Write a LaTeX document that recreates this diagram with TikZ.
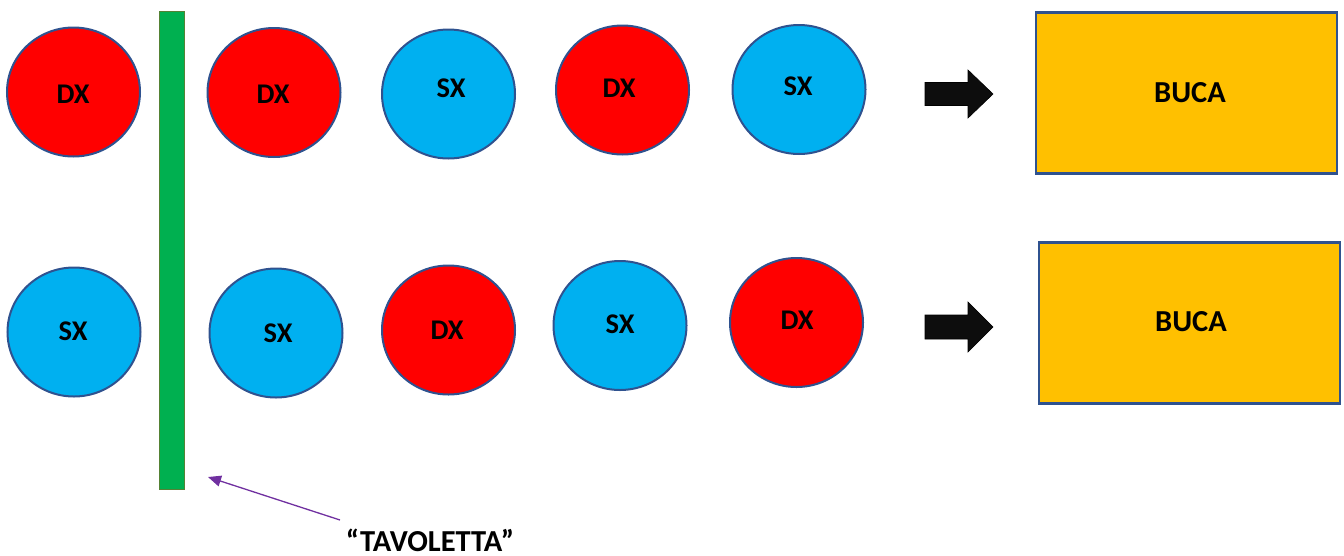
\documentclass[tikz,border=0pt]{standalone}
\usepackage{fontspec}
\setmainfont{Carlito}
\usetikzlibrary{arrows.meta,shapes.geometric}
\definecolor{cred}{HTML}{FF0000}
\definecolor{cblue}{HTML}{00B0F0}
\definecolor{corange}{HTML}{FFC000}
\definecolor{cedge}{HTML}{2F528F}
\definecolor{cgreen}{HTML}{00B050}
\definecolor{cgreenedge}{HTML}{548235}
\definecolor{cpurple}{HTML}{7030A0}
\begin{document}
\begin{tikzpicture}[x=1pt,y=-1pt,
  ball/.style={ellipse,draw=cedge,line width=2pt,inner sep=0pt,
    minimum width=133pt,minimum height=129pt},
  dx/.style={ball,fill=cred},
  sx/.style={ball,fill=cblue},
  hole/.style={rectangle,draw=cedge,line width=2.5pt,fill=corange,
    minimum width=301pt,minimum height=161pt,inner sep=0pt},
  lbl/.style={inner sep=0pt,font=\fontsize{28.5}{30}\selectfont\bfseries},
  biglbl/.style={inner sep=0pt,font=\fontsize{30.5}{32}\selectfont\bfseries},
  blockarrow/.style={fill=black!95,draw=black,line width=0.6pt,line join=miter}
]
\useasboundingbox (0,0) rectangle (1344,555);
% green board
\node[draw=cgreenedge,fill=cgreen,line width=1.5pt,minimum width=25pt,minimum height=478pt,inner sep=0pt] (board) at (172,250.5) {};
% row 1
\node[dx] (a1) at (73.5,92) {};
\node[lbl] at (73,94) {DX};
\node[dx] (a2) at (274,92.5) {};
\node[lbl] at (273,94) {DX};
\node[sx] (a3) at (448.5,94) {};
\node[lbl] at (451,88) {SX};
\node[dx] (a4) at (622.5,90) {};
\node[lbl] at (619,88) {DX};
\node[sx] (a5) at (799,89.5) {};
\node[lbl] at (798,86) {SX};
% row 2
\node[sx] (b1) at (74,332) {};
\node[lbl] at (73,331) {SX};
\node[sx] (b2) at (276,333) {};
\node[lbl] at (278,333) {SX};
\node[dx] (b3) at (448.5,330) {};
\node[lbl] at (447,330) {DX};
\node[sx] (b4) at (620,325.5) {};
\node[lbl] at (620,324) {SX};
\node[dx] (b5) at (796.5,322.5) {};
\node[lbl] at (797,320) {DX};
% holes
\node[hole] (h1) at (1186.5,93) {};
\node[biglbl] at (1190,93) {BUCA};
\node[hole] (h2) at (1189.5,323) {};
\node[biglbl] at (1191,322) {BUCA};
% block arrows
\draw[blockarrow] (925,82.5) -- (968,82.5) -- (968,70) -- (993,94) -- (968,118) -- (968,105.5) -- (925,105.5) -- cycle;
\draw[blockarrow] (925,315) -- (968,315) -- (968,302) -- (993,327) -- (968,352) -- (968,339) -- (925,339) -- cycle;
% label and pointer
\node[biglbl,anchor=south] (tav) at (430,552) {“TAVOLETTA”};
\coordinate (ptail) at (340,520);
\coordinate (ptip) at (208,477);
\draw[cpurple,line width=1.3pt,-{Triangle[length=13pt,width=11pt]}] (ptail) -- (ptip);
\end{tikzpicture}
\end{document}
